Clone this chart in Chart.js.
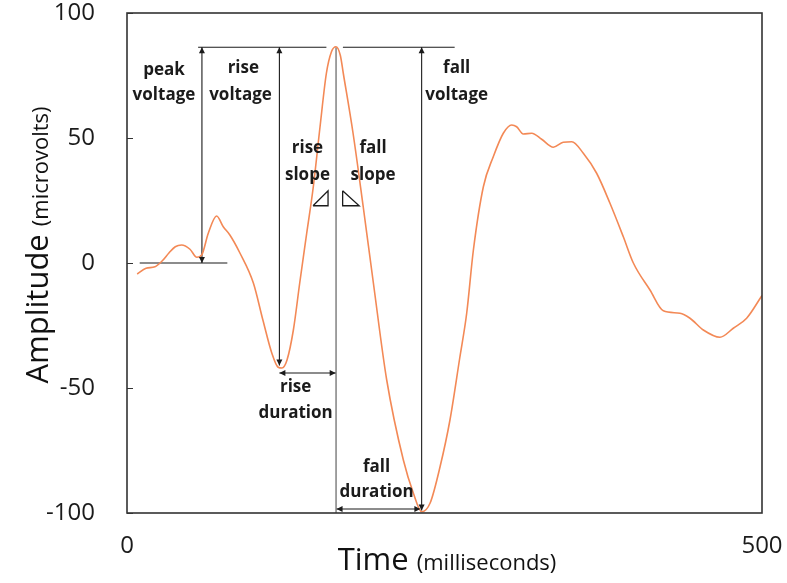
<!DOCTYPE html>
<html>
<head>
<meta charset="utf-8">
<script src="https://cdn.jsdelivr.net/npm/chart.js@4.4.1/dist/chart.umd.min.js"></script>
<style>
  html, body { margin: 0; padding: 0; background: #fff; }
  #wrap { width: 787px; height: 583px; }
</style>
</head>
<body>
<div id="wrap"><canvas id="waveChart" width="787" height="583"></canvas></div>
<script>
// Waveform (time in ms, amplitude in microvolts)
const timeMs = [8, 15, 22, 28, 33, 38, 43, 49.6, 55, 58.8, 64, 70.6, 75.8, 81, 89, 99.5, 107, 114, 119, 122, 126, 131, 136,
  141.5, 146.7, 152, 157, 161, 164.5, 168, 170.3, 178, 186, 194, 204.5, 217.6, 225.5, 232, 238.6, 246.5, 254.3, 262, 267.5,
  272.7, 280.6, 288.4, 296.3, 302.9, 306.8, 312, 318.7, 326.5, 335.7, 343.5, 350.2, 359.3, 369.8, 380.3, 390.8, 398.7,
  411.8, 422.3, 435.4, 443.3, 453.8, 466.9, 477.4, 487.9, 500];
const amplitude = [-4.4, -2.1, -1.5, 1, 4, 6.5, 7.2, 5.5, 2.3, 3.2, 11.9, 18.8, 14.5, 11.2, 3.9, -8, -22.8, -36, -41.7, -42, -38.8, -26.8, -8,
  11.9, 30.5, 54.5, 75.9, 84.5, 86.5, 83, 75.9, 51.9, 22.5, -8, -46.8, -78.8, -92.1, -99.5, -96.1, -81.5, -62.8, -38, -20,
  5, 30.5, 42.5, 51.9, 55.2, 54.5, 51.6, 51.9, 49.5, 46.3, 48.3, 48.5, 43.9, 35.9, 23.9, 10.5, 0,
  -10.8, -19.1, -20.1, -22.1, -26.8, -29.7, -26.1, -22.1, -13];

const xTicks = [0, 500];
const yTicks = [-100, -50, 0, 50, 100];

// Measurement guides: [x1, y1, x2, y2, arrowheads]
const peakLevel = 86.3;
const guideSegments = [
  [56, peakLevel, 157, peakLevel, false],
  [170, peakLevel, 258, peakLevel, false],
  [10, 0, 79, 0, false],
  [59, 0, 59, peakLevel, true],          // peak voltage
  [120, -41, 120, peakLevel, true],      // rise voltage
  [164.6, peakLevel, 164.6, -100, false],
  [232, -99, 232, peakLevel, true],      // fall voltage
  [120, -44, 164.3, -44, true],          // rise duration
  [165, -98.4, 231, -98.4, true]         // fall duration
];

// Slope triangles (closed outlines)
const riseSlopeX = [146.5, 158.3, 158.3, 146.5];
const riseSlopeY = [22.9, 22.9, 28.9, 22.9];
const fallSlopeX = [169.8, 169.8, 182.8, 169.8];
const fallSlopeY = [28.9, 22.9, 22.9, 28.9];

// Annotation text and where it sits (data coords)
const noteText = ['peak', 'voltage', 'rise', 'voltage', 'rise', 'slope', 'fall', 'slope',
  'fall', 'voltage', 'rise', 'duration', 'fall', 'duration'];
const noteX = [29.1, 29.1, 91.6, 89.4, 142.1, 142.1, 193.7, 193.7, 259.6, 259.6, 132.8, 132.8, 196.5, 196.5];
const noteY = [77.2, 67.2, 78, 67.2, 46.1, 35.2, 46.1, 35.2, 78, 67.2, -49.5, -60.1, -81.5, -91.5];

const FONT = "'Open Sans', 'DejaVu Sans', sans-serif";
const INK = '#1b1b1b';

function toPoints(xs, ys) {
  return xs.map((x, i) => ({ x: x, y: ys[i] }));
}

const datasets = [{
  data: toPoints(timeMs, amplitude),
  borderColor: 'rgb(243, 137, 86)',
  borderWidth: 1.6,
  pointRadius: 0,
  showLine: true,
  cubicInterpolationMode: 'monotone',
  order: 0
}];

guideSegments.forEach(seg => {
  datasets.push({
    data: [{ x: seg[0], y: seg[1] }, { x: seg[2], y: seg[3] }],
    borderColor: seg[0] === seg[2] && !seg[4] ? '#555' : INK,
    borderWidth: 1.1,
    pointRadius: 0,
    showLine: true,
    arrowHeads: seg[4],
    order: 1
  });
});

[[riseSlopeX, riseSlopeY], [fallSlopeX, fallSlopeY]].forEach(tri => {
  datasets.push({
    data: toPoints(tri[0], tri[1]),
    borderColor: INK,
    borderWidth: 1.3,
    pointRadius: 0,
    showLine: true,
    order: 1
  });
});

// Arrowheads, frame, inner ticks, notes and the two-size axis titles
const decorPlugin = {
  id: 'decor',
  afterDatasetsDraw(chart) {
    const ctx = chart.ctx;
    const xs = chart.scales.x, ys = chart.scales.y;
    const area = chart.chartArea;

    ctx.save();
    ctx.fillStyle = INK;
    chart.data.datasets.forEach((ds, i) => {
      if (!ds.arrowHeads) return;
      const pts = chart.getDatasetMeta(i).data;
      const a = pts[0], b = pts[1];
      [[a, b], [b, a]].forEach(([tip, from]) => {
        const ang = Math.atan2(tip.y - from.y, tip.x - from.x);
        const len = 6, half = 3;
        ctx.beginPath();
        ctx.moveTo(tip.x, tip.y);
        ctx.lineTo(tip.x - len * Math.cos(ang) + half * Math.sin(ang), tip.y - len * Math.sin(ang) - half * Math.cos(ang));
        ctx.lineTo(tip.x - len * Math.cos(ang) - half * Math.sin(ang), tip.y - len * Math.sin(ang) + half * Math.cos(ang));
        ctx.closePath();
        ctx.fill();
      });
    });

    // frame
    ctx.strokeStyle = '#333';
    ctx.lineWidth = 1.6;
    ctx.strokeRect(area.left, area.top, area.right - area.left, area.bottom - area.top);

    // inward y ticks
    ctx.lineWidth = 1;
    yTicks.forEach(v => {
      const py = Math.round(ys.getPixelForValue(v)) + 0.5;
      ctx.beginPath();
      ctx.moveTo(area.left, py);
      ctx.lineTo(area.left + 6, py);
      ctx.stroke();
    });

    // notes
    ctx.fillStyle = INK;
    ctx.font = 'bold 17px ' + FONT;
    ctx.textAlign = 'center';
    ctx.textBaseline = 'middle';
    noteText.forEach((t, i) => {
      ctx.fillText(t, xs.getPixelForValue(noteX[i]), ys.getPixelForValue(noteY[i]));
    });

    // axis titles
    drawTitle(ctx, 'Time', '(milliseconds)', 447, 570, 0);
    drawTitle(ctx, 'Amplitude', '(microvolts)', 48, 245, -Math.PI / 2);
    ctx.restore();
  }
};

function drawTitle(ctx, big, small, cx, baseY, rot) {
  ctx.save();
  ctx.translate(cx, baseY);
  ctx.rotate(rot);
  ctx.textBaseline = 'alphabetic';
  ctx.textAlign = 'left';
  ctx.fillStyle = '#111';
  const bigFont = '31px ' + FONT, smallFont = '22px ' + FONT;
  ctx.font = bigFont;
  const w1 = ctx.measureText(big + ' ').width;
  ctx.font = smallFont;
  const w2 = ctx.measureText(small).width;
  const start = -(w1 + w2) / 2;
  ctx.font = bigFont;
  ctx.fillText(big, start, 0);
  ctx.font = smallFont;
  ctx.fillText(small, start + w1, 0);
  ctx.restore();
}

new Chart(document.getElementById('waveChart'), {
  type: 'scatter',
  data: { datasets: datasets },
  options: {
    responsive: false,
    animation: false,
    layout: { padding: { top: 13, right: 25, left: 0, bottom: 0 } },
    plugins: { legend: { display: false }, tooltip: { enabled: false } },
    scales: {
      x: {
        type: 'linear',
        min: 0,
        max: 500,
        afterBuildTicks: s => { s.ticks = xTicks.map(v => ({ value: v })); },
        afterFit: s => { s.height = 70; s.paddingLeft = 0; s.paddingRight = 0; },
        grid: { display: false },
        border: { display: false },
        ticks: { color: INK, font: { family: FONT, size: 24 }, padding: 11, maxRotation: 0 }
      },
      y: {
        type: 'linear',
        min: -100,
        max: 100,
        afterBuildTicks: s => { s.ticks = yTicks.map(v => ({ value: v })); },
        afterFit: s => { s.width = 127; s.paddingTop = 0; s.paddingBottom = 0; },
        grid: { display: false },
        border: { display: false },
        ticks: { color: INK, font: { family: FONT, size: 24 }, padding: 24 }
      }
    }
  },
  plugins: [decorPlugin]
});
</script>
</body>
</html>
